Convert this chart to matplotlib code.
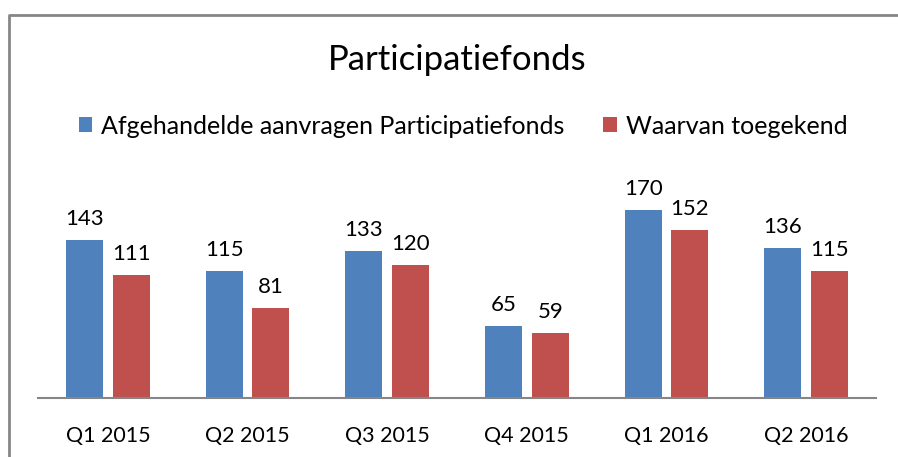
import matplotlib
matplotlib.use('Agg')
import matplotlib.pyplot as plt
import numpy as np
from matplotlib.lines import Line2D

# data
quarters = ['Q1 2015', 'Q2 2015', 'Q3 2015', 'Q4 2015', 'Q1 2016', 'Q2 2016']
handled = [143, 115, 133, 65, 170, 136]
granted = [111, 81, 120, 59, 152, 115]
series_names = ['Afgehandelde aanvragen Participatiefonds', 'Waarvan toegekend']

blue = '#4F81BD'
red = '#C0504D'
grey = '#868686'

plt.rcParams['font.family'] = ['Lato', 'DejaVu Sans']

fig = plt.figure(figsize=(8.98, 4.57), dpi=100)
W, H = 898, 457

# outer chart border, only top and left are inside the image
fig.lines.append(Line2D([8.5 / W, 8.5 / W, 1.05], [-0.05, 1 - 14.5 / H, 1 - 14.5 / H],
                        transform=fig.transFigure, color=grey, linewidth=2))

ax = fig.add_axes([38 / W, 1 - 398 / H, (876 - 38) / W, 221 / H])
x = np.arange(len(quarters))
bw = 0.265
gap = 0.07
b1 = ax.bar(x - (bw + gap) / 2, handled, bw, color=blue, label=series_names[0])
b2 = ax.bar(x + (bw + gap) / 2, granted, bw, color=red, label=series_names[1])

for bars, vals in [(b1, handled), (b2, granted)]:
    for r, v in zip(bars, vals):
        ax.annotate(str(v), (r.get_x() + r.get_width() / 2, v),
                    xytext=(0, 8), textcoords='offset points',
                    ha='center', va='bottom', fontsize=16, annotation_clip=False)

ax.set_xlim(-0.5, len(quarters) - 0.5)
ax.set_ylim(0, 200)
ax.set_xticks(x)
ax.set_xticklabels(quarters, fontsize=15.5)
ax.tick_params(axis='x', length=0, pad=20)
ax.set_yticks([])
for s in ['top', 'right', 'left']:
    ax.spines[s].set_visible(False)
ax.spines['bottom'].set_color(grey)
ax.spines['bottom'].set_linewidth(1.5)

fig.text(457 / W, 1 - 60 / H, 'Participatiefonds', ha='center', va='center', fontsize=25)
fig.legend(handles=[b1, b2], loc='center', bbox_to_anchor=(463 / W, 1 - 126 / H),
           ncol=2, frameon=False, fontsize=18, handlelength=0.55, handleheight=0.55,
           handletextpad=0.35, columnspacing=1.55)

fig.savefig('out.png', dpi=100)
